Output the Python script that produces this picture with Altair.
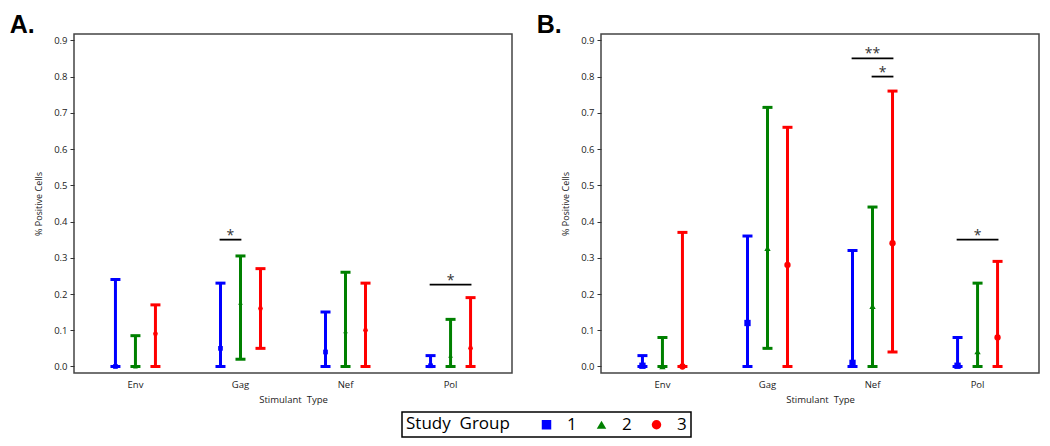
import altair as alt
import pandas as pd

categories = ["Env", "Gag", "Nef", "Pol"]
groups = [1, 2, 3]

# Panel A (median, low, high) per study group
A_mid_1 = [0.0, 0.05, 0.04, 0.002]
A_lo_1 = [0.0, 0.0, 0.0, 0.0]
A_hi_1 = [0.24, 0.23, 0.15, 0.03]
A_mid_2 = [0.0, 0.176, 0.097, 0.03]
A_lo_2 = [0.0, 0.02, 0.0, 0.0]
A_hi_2 = [0.085, 0.305, 0.26, 0.13]
A_mid_3 = [0.09, 0.16, 0.10, 0.05]
A_lo_3 = [0.0, 0.05, 0.0, 0.0]
A_hi_3 = [0.17, 0.27, 0.23, 0.19]

# Panel B
B_mid_1 = [0.002, 0.12, 0.01, 0.002]
B_lo_1 = [0.0, 0.0, 0.0, 0.0]
B_hi_1 = [0.03, 0.36, 0.32, 0.08]
B_mid_2 = [0.0, 0.326, 0.166, 0.041]
B_lo_2 = [0.0, 0.05, 0.0, 0.0]
B_hi_2 = [0.08, 0.715, 0.44, 0.23]
B_mid_3 = [0.0, 0.28, 0.34, 0.08]
B_lo_3 = [0.0, 0.0, 0.04, 0.0]
B_hi_3 = [0.37, 0.66, 0.76, 0.29]

# significance brackets: category, from group, to group, level, label
A_sig_cat = ["Gag", "Pol"]
A_sig_from = [1, 1]
A_sig_to = [2, 3]
A_sig_y = [0.35, 0.226]
A_sig_lab = ["*", "*"]

B_sig_cat = ["Nef", "Nef", "Pol"]
B_sig_from = [1, 2, 1]
B_sig_to = [3, 3, 3]
B_sig_y = [0.85, 0.80, 0.35]
B_sig_lab = ["**", "*", "*"]

y_ticks = [0.0, 0.1, 0.2, 0.3, 0.4, 0.5, 0.6, 0.7, 0.8, 0.9]

colors = ["#0000ff", "#008000", "#ff0000"]
shapes = ["square", "triangle-up", "circle"]

W = 438
H = 339
P_OUT = 0.085
STEP = W / (len(categories) + 2 * P_OUT)
GAP = 20
FONT = "Open Sans"


def long_frame(mids, los, his):
    rows = []
    for g, m, lo, hi in zip(groups, mids, los, his):
        for c, mv, lv, hv in zip(categories, m, lo, hi):
            rows.append({"cat": c, "group": g, "mid": mv, "lo": lv, "hi": hv})
    return pd.DataFrame(rows)


def sig_frame(cats, fr, to, ys, labs):
    return pd.DataFrame({"cat": cats, "g_from": fr, "g_to": to, "y": ys, "lab": labs,
                         "bid": list(range(len(cats)))})


x_axis = alt.Axis(title="Stimulant\u00a0\u00a0Type", labelAngle=0, ticks=False,
                  domain=False, labelPadding=6, titlePadding=6,
                  labelFontSize=9.5, titleFontSize=9.5, labelColor="#222",
                  titleColor="#222", titleFontWeight="normal",
                  labelFont=FONT, titleFont=FONT)
x_scale = alt.Scale(paddingInner=0, paddingOuter=P_OUT)
off_scale = alt.Scale(domain=[1, 3], range=[STEP / 2 - GAP, STEP / 2 + GAP], zero=False, nice=False)
y_scale = alt.Scale(domain=[-0.018, 0.9175], nice=False, zero=False)
y_axis = alt.Axis(title="% Positive Cells", values=y_ticks, format=".1f",
                  grid=False, domain=False, tickSize=4, tickColor="#333", labelFontSize=9.5,
                  labelColor="#222", titleFontSize=9, titleColor="#222", titleFontWeight="normal",
                  labelFont=FONT, titleFont=FONT, titlePadding=10, labelPadding=3,
                  labelOverlap=False)

color_scale = alt.Scale(domain=groups, range=colors)
shape_scale = alt.Scale(domain=groups, range=shapes)
legend = alt.Legend(orient="none", legendX=328, legendY=378, direction="horizontal",
                    titleOrient="left", title="Study\u00a0\u00a0Group")


def X(field="cat:N"):
    return alt.X(field, sort=categories, scale=x_scale, axis=x_axis)


def Y(field):
    return alt.Y(field, scale=y_scale, axis=y_axis)


def C():
    return alt.Color("group:N", scale=color_scale, legend=legend)


def panel(df, sig, letter, psize):
    base = alt.Chart(df).encode(
        x=X(),
        xOffset=alt.XOffset("group:Q", scale=off_scale),
    )
    rules = base.mark_rule(strokeWidth=3).encode(y=Y("lo:Q"), y2="hi:Q", color=C())
    caps_lo = base.mark_tick(size=10, thickness=3, opacity=1).encode(y=Y("lo:Q"), color=C())
    caps_hi = base.mark_tick(size=10, thickness=3, opacity=1).encode(y=Y("hi:Q"), color=C())
    pts = base.mark_point(filled=True, opacity=1, size=psize).encode(
        y=Y("mid:Q"),
        color=C(),
        shape=alt.Shape("group:N", scale=shape_scale, legend=legend),
    )
    sbase = alt.Chart(sig)
    lines = sbase.transform_fold(["g_from", "g_to"], as_=["end", "g"]).mark_line(
        color="black", strokeWidth=1.8, strokeCap="square"
    ).encode(
        x=X(),
        xOffset=alt.XOffset("g:Q", scale=off_scale),
        y=Y("y:Q"),
        detail="bid:N",
    )
    stars = sbase.transform_calculate(gm="(datum.g_from + datum.g_to) / 2").mark_text(
        baseline="alphabetic", fontSize=14, font=FONT, color="#333"
    ).encode(
        x=X(),
        xOffset=alt.XOffset("gm:Q", scale=off_scale),
        y=Y("y:Q"),
        text="lab:N",
    )
    return alt.layer(rules, caps_lo, caps_hi, lines, stars, pts).properties(
        width=W, height=H,
        title=alt.TitleParams(letter, anchor="start", frame="bounds", dx=-25, fontSize=25,
                              font="Liberation Sans", fontWeight="bold", color="black", offset=-4),
    )


pA = panel(long_frame([A_mid_1, A_mid_2, A_mid_3], [A_lo_1, A_lo_2, A_lo_3], [A_hi_1, A_hi_2, A_hi_3]),
           sig_frame(A_sig_cat, A_sig_from, A_sig_to, A_sig_y, A_sig_lab), "A.", 22)
pB = panel(long_frame([B_mid_1, B_mid_2, B_mid_3], [B_lo_1, B_lo_2, B_lo_3], [B_hi_1, B_hi_2, B_hi_3]),
           sig_frame(B_sig_cat, B_sig_from, B_sig_to, B_sig_y, B_sig_lab), "B.", 40)

chart = alt.hconcat(pA, pB, spacing=22).properties(
    padding={"left": 0, "top": 4, "right": 0, "bottom": 0}
).configure_view(
    stroke="#444", strokeWidth=1.5
).configure_legend(
    strokeColor="black", strokeWidth=1.5, padding=4, titleFontSize=17, labelFontSize=17,
    titleFont=FONT, labelFont=FONT, titleFontWeight="normal", titleColor="black",
    labelColor="black", symbolSize=90, symbolStrokeWidth=0, symbolOpacity=1,
    columnPadding=16, titlePadding=28, labelOffset=12, titleBaseline="middle", fillColor="white"
)

chart.save("out.html", embed_options={"renderer": "svg", "actions": False})
